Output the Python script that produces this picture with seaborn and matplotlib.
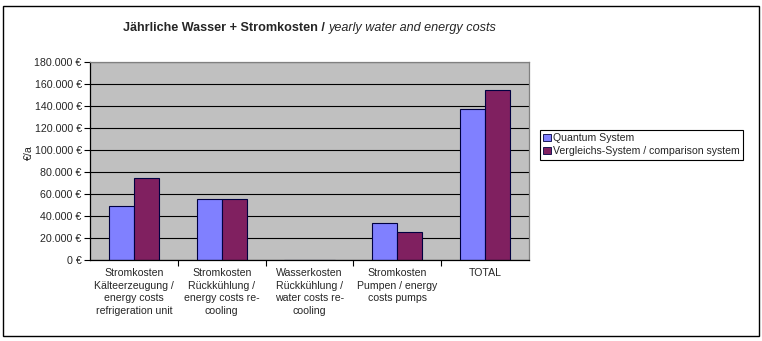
import matplotlib
matplotlib.use("Agg")
import matplotlib.pyplot as plt
import seaborn as sns
import pandas as pd
import numpy as np
from matplotlib.patches import Rectangle, Patch
from matplotlib.ticker import FuncFormatter, MultipleLocator

categories = [
    "Stromkosten\nKälteerzeugung /\nenergy costs\nrefrigeration unit",
    "Stromkosten\nRückkühlung /\nenergy costs re-\ncooling",
    "Wasserkosten\nRückkühlung /\nwater costs re-\ncooling",
    "Stromkosten\nPumpen / energy\ncosts pumps",
    "TOTAL",
]
series_names = ["Quantum System", "Vergleichs-System / comparison system"]
quantum = [48800, 55200, 0, 33400, 137600]
comparison = [74200, 55200, 0, 25200, 154600]
colors = ["#8080FF", "#802060"]

df = pd.DataFrame({
    "cat": categories * 2,
    "series": [series_names[0]] * 5 + [series_names[1]] * 5,
    "value": quantum + comparison,
})

sns.set_style("white")
plt.rcParams["font.family"] = ["Liberation Sans", "DejaVu Sans"]

fig = plt.figure(figsize=(7.62, 3.41), dpi=100)
ax = fig.add_axes([90/762, 1-260/341, 439/762, 198/341])
ax.set_facecolor("#C0C0C0")

sns.barplot(data=df, x="cat", y="value", hue="series", palette=colors,
            width=0.57, gap=0, ax=ax, edgecolor="#000040", linewidth=0.8,
            legend=False, errorbar=None, saturation=1)

ax.set_ylim(0, 180000)
ax.set_xlim(-0.5, 4.5)
ax.yaxis.set_major_locator(MultipleLocator(20000))
ax.yaxis.set_major_formatter(FuncFormatter(lambda v, p: f"{int(v):,} €".replace(",", ".")))
ax.grid(axis="y", color="black", linewidth=0.8)
ax.set_axisbelow(True)
ax.tick_params(axis="y", which="major", direction="out", length=4, width=0.8,
               labelsize=7.7, pad=2, left=True, color="black")
ax.set_xticks(range(5))
ax.set_xticklabels(categories, fontsize=7.6, linespacing=1.3)
ax.set_xticks(np.arange(0.5, 4.5, 1), minor=True)
ax.tick_params(axis="x", which="major", length=0, pad=6)
ax.tick_params(axis="x", which="minor", direction="out", length=4, width=0.8,
               bottom=True, color="black")
ax.set_xlabel("")
ax.set_ylabel("")
fig.text(29/762, 1-153/341, "€/a", rotation=90, fontsize=7.7, ha="center", va="center")

for s in ["left", "bottom"]:
    ax.spines[s].set_color("black")
    ax.spines[s].set_linewidth(0.9)
for s in ["top", "right"]:
    ax.spines[s].set_visible(True)
    ax.spines[s].set_color("#808080")
    ax.spines[s].set_linewidth(0.9)

t1 = fig.text(123/762, 1-28/341, "Jährliche Wasser + Stromkosten / ", fontsize=9.1,
              fontweight="bold", va="center", ha="left")
t2 = ax.annotate("yearly water and energy costs", xy=(1, 0), xycoords=t1,
                 va="bottom", ha="left", fontsize=9.1, fontstyle="italic")

handles = [Patch(facecolor=c, edgecolor="#000040", linewidth=0.6) for c in colors]
leg = fig.legend(handles, series_names, loc="upper left",
                 bbox_to_anchor=(540/762, 1-130/341), fontsize=7.6,
                 frameon=True, fancybox=False, edgecolor="black", framealpha=1,
                 handlelength=0.7, handleheight=0.7, handletextpad=0.2,
                 borderpad=0.3, labelspacing=0.3, borderaxespad=0)
leg.get_frame().set_linewidth(0.8)

fig.patches.append(Rectangle((3/762, 5/341), 756/762, 330/341, transform=fig.transFigure,
                             fill=False, edgecolor="black", linewidth=1))

fig.savefig("out.png", dpi=100)
